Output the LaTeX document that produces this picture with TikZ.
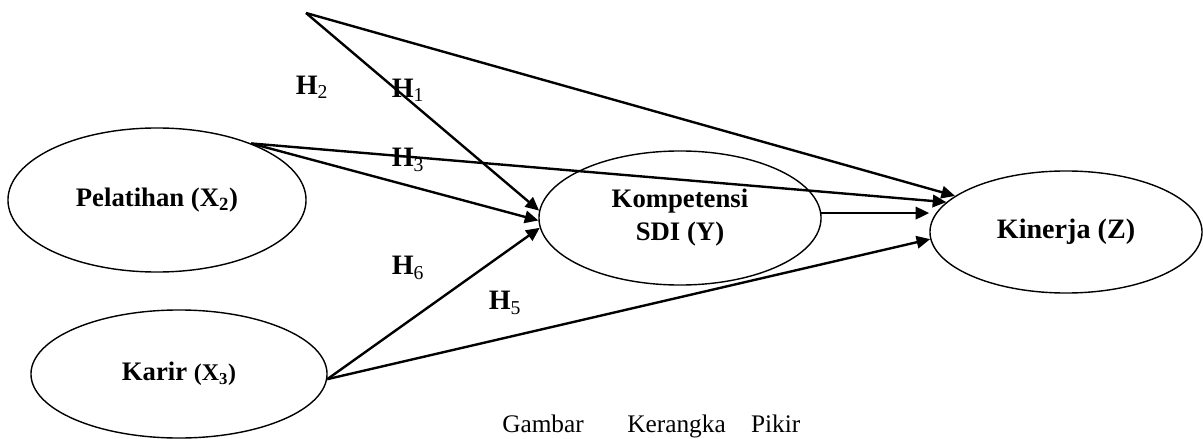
\documentclass[tikz,border=0pt]{standalone}
\usepackage{fontspec}
\setmainfont{Liberation Serif}
\usetikzlibrary{arrows.meta,shapes.geometric}

\begin{document}
\begin{tikzpicture}[x=0.025cm,y=-0.025cm,>={Triangle[length=3.4mm,width=3.1mm]},
  var/.style={draw,ellipse,line width=1pt,inner sep=0pt,align=center,font=\fontsize{19}{23.5}\selectfont\bfseries},
  link/.style={->,line width=1.7pt},
  hyp/.style={inner sep=0pt,font=\fontsize{20}{24}\selectfont}]
\useasboundingbox (0,0) rectangle (1203,439);
\node[var,minimum width=7.45cm,minimum height=3.6cm] (pelatihan) at (157,200) {Pelatihan (X\textsubscript{2})};
\node[var,minimum width=7.4cm,minimum height=3.2cm] (karir) at (179,374) {Karir {\fontsize{17}{20}\selectfont(X\textsubscript{3})}};
\node[var,minimum width=7.05cm,minimum height=3.35cm] (kompetensi) at (680,218) {Kompetensi\\SDI (Y)};
\node[var,minimum width=6.8cm,minimum height=3.05cm,font=\fontsize{20}{24}\selectfont\bfseries] (kinerja) at (1066,232) {Kinerja (Z)};
\coordinate (apex) at (306,13);
\draw[link] (apex) -- (kompetensi.177);
\draw[link] (apex) -- (kinerja.162);
\draw[link] (pelatihan.31) -- (kinerja.166);
\draw[link] (pelatihan.31) -- (kompetensi.181);
\draw[link] (karir.-2) -- (kompetensi.184);
\draw[link] (karir.-2) -- (kinerja.183);
\draw[link] (kompetensi.2) -- (kompetensi.2 -| kinerja.west);
\foreach \k/\px/\py in {2/312/87,1/408/90,3/408/160,6/408/268,5/505/303}{
  \node[hyp] (h\k) at (\px,\py) {\textbf{H}\textsubscript{\k}};
}
\node[anchor=base west,inner sep=0pt,font=\fontsize{18}{22}\selectfont] (caption) at (502,432) {Gambar\hspace{31pt}Kerangka\hspace{18pt}Pikir};
\end{tikzpicture}
\end{document}
